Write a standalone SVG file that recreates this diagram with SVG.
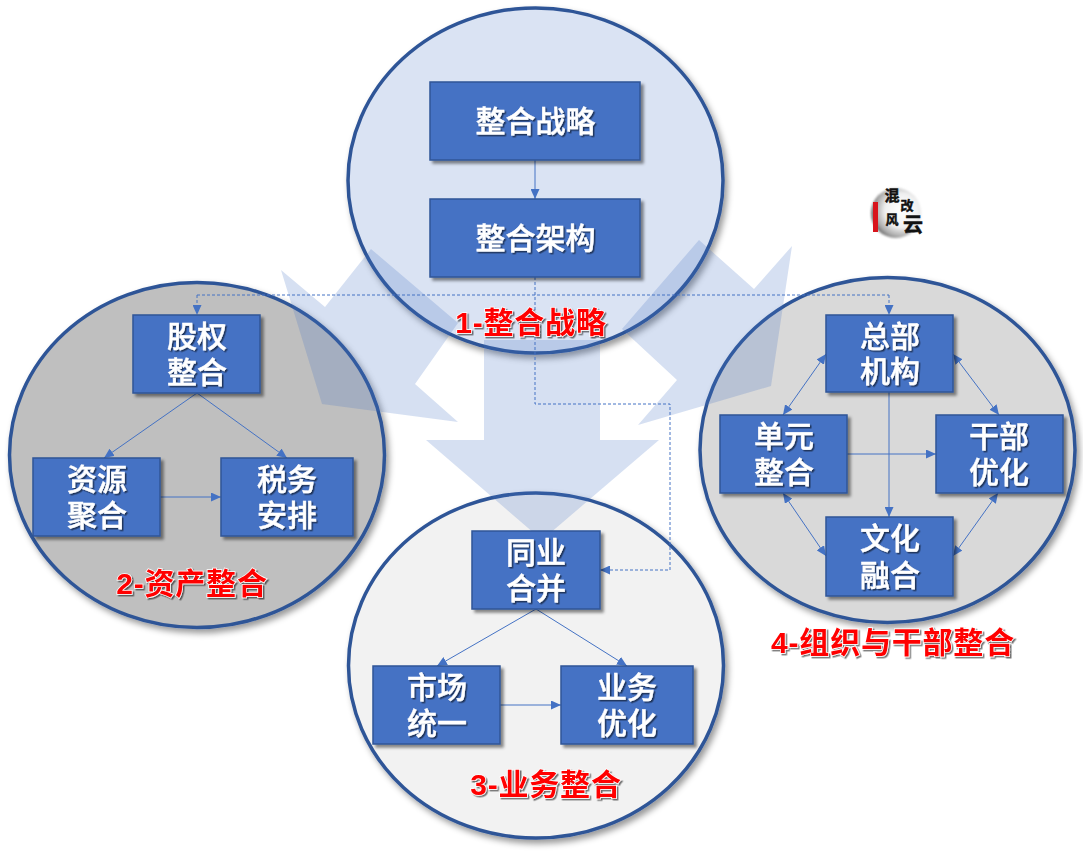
<svg xmlns="http://www.w3.org/2000/svg" width="1083" height="851" viewBox="0 0 1083 851">
<style>
text{font-family:"Liberation Sans","Noto Sans CJK SC",sans-serif;text-anchor:middle}
.c{stroke:#2f5597;stroke-width:3.5;filter:url(#cs)}
.b{fill:#4472c4;stroke:#2f5597;stroke-width:1.5;filter:url(#bs)}
.t{fill:#fff;font-size:30px;font-weight:500;stroke:#fff;stroke-width:.4;filter:url(#ts)}
.l{fill:#f00;font-size:30px;font-weight:700;letter-spacing:.8px;stroke:#fff;stroke-width:1.5;paint-order:stroke;filter:url(#ts)}
.a{fill:#4472c4;fill-opacity:.22}
.k{fill:none;stroke:#4472c4;stroke-width:1}
.d{fill:none;stroke:#4472c4;stroke-width:1;stroke-dasharray:3 2}
.m{font-weight:700;fill:#111;stroke:#111;stroke-width:.5}
</style>
<defs>
<filter id="cs" x="-10%" y="-10%" width="120%" height="120%"><feDropShadow dx="3" dy="4" stdDeviation="3" flood-color="#000" flood-opacity=".4"/></filter>
<filter id="bs" x="-10%" y="-10%" width="120%" height="125%"><feDropShadow dx="3" dy="3" stdDeviation="1.5" flood-color="#000" flood-opacity=".45"/></filter>
<filter id="ts" x="-10%" y="-10%" width="125%" height="125%"><feDropShadow dx="1.5" dy="1.5" stdDeviation=".7" flood-color="#000" flood-opacity=".55"/></filter>
<filter id="blur"><feGaussianBlur stdDeviation="1"/></filter>
<radialGradient id="lg" cx=".62" cy=".45" r=".62"><stop offset="0" stop-color="#fff"/><stop offset=".55" stop-color="#f0f0f0"/><stop offset=".85" stop-color="#aaa"/><stop offset="1" stop-color="#666"/></radialGradient>
<marker id="ah" viewBox="0 0 10 9" refX="10" refY="4.500" markerWidth="10" markerHeight="9" markerUnits="userSpaceOnUse" orient="auto-start-reverse"><path d="M0 0L10 4.500L0 9Z" fill="#4472c4"/></marker>
</defs>
<g id="circles">
<ellipse id="circle-1" class="c" cx="535.500" cy="180.500" rx="187.500" ry="172.500" fill="#dae3f3"/>
<ellipse id="circle-2" class="c" cx="197" cy="455" rx="187.500" ry="172.500" fill="#bfbfbf"/>
<ellipse id="circle-3" class="c" cx="536" cy="665.500" rx="187.500" ry="172.500" fill="#f2f2f2"/>
<ellipse id="circle-4" class="c" cx="887.500" cy="450" rx="187.500" ry="172.500" fill="#d9d9d9"/>
</g>
<g id="flow-arrows">
<path class="a" d="M484 340H600V440H659L542 540L426 440H484Z"/>
<path class="a" d="M281 270L325 307L371 249L458 323L415 384L458 422L322 404Z"/>
<path class="a" d="M792 246L754 289L699 240L622 329L677 380L638 425L771 386Z"/>
</g>
<g id="connectors">
<path class="k" marker-end="url(#ah)" d="M535 160V199"/>
<path class="d" d="M197 295H889"/>
<path class="d" marker-end="url(#ah)" d="M197 295V315"/>
<path class="d" marker-end="url(#ah)" d="M889 295V315"/>
<path class="d" marker-end="url(#ah)" d="M535 277V404H670V570H600"/>
<path class="k" marker-end="url(#ah)" d="M197 393L104 458"/>
<path class="k" marker-end="url(#ah)" d="M197 393L287 458"/>
<path class="k" marker-end="url(#ah)" d="M160 497H221"/>
<path class="k" marker-end="url(#ah)" d="M536 609L437 666"/>
<path class="k" marker-end="url(#ah)" d="M536 609L627 666"/>
<path class="k" marker-end="url(#ah)" d="M500 705H561"/>
<path class="k" marker-end="url(#ah)" d="M889 392V517"/>
<path class="k" marker-end="url(#ah)" d="M847 454H936"/>
<path class="k" marker-start="url(#ah)" marker-end="url(#ah)" d="M826 354L783 415"/>
<path class="k" marker-start="url(#ah)" marker-end="url(#ah)" d="M953 354L999 415"/>
<path class="k" marker-start="url(#ah)" marker-end="url(#ah)" d="M783 493L826 556"/>
<path class="k" marker-start="url(#ah)" marker-end="url(#ah)" d="M998 493L953 556"/>
</g>
<g id="n1"><rect class="b" x="430" y="82" width="210" height="78"/><text class="t" x="535.500" y="132">整合战略</text></g>
<g id="n2"><rect class="b" x="430" y="199" width="210" height="78"/><text class="t" x="535.500" y="249">整合架构</text></g>
<g id="n3"><rect class="b" x="133" y="315" width="127" height="78"/><text class="t" x="197" y="347">股权</text><text class="t" x="197" y="383">整合</text></g>
<g id="n4"><rect class="b" x="33" y="458" width="127" height="78"/><text class="t" x="97" y="490">资源</text><text class="t" x="97" y="526">聚合</text></g>
<g id="n5"><rect class="b" x="221" y="458" width="132" height="78"/><text class="t" x="287" y="490">税务</text><text class="t" x="287" y="526">安排</text></g>
<g id="n6"><rect class="b" x="472" y="531" width="128" height="78"/><text class="t" x="536" y="563">同业</text><text class="t" x="536" y="599">合并</text></g>
<g id="n7"><rect class="b" x="373" y="666" width="127" height="78"/><text class="t" x="437" y="698">市场</text><text class="t" x="437" y="734">统一</text></g>
<g id="n8"><rect class="b" x="561" y="666" width="132" height="78"/><text class="t" x="627" y="698">业务</text><text class="t" x="627" y="734">优化</text></g>
<g id="n9"><rect class="b" x="826" y="315" width="127" height="77"/><text class="t" x="890" y="347">总部</text><text class="t" x="890" y="382">机构</text></g>
<g id="n10"><rect class="b" x="720" y="415" width="127" height="78"/><text class="t" x="784" y="447">单元</text><text class="t" x="784" y="483">整合</text></g>
<g id="n11"><rect class="b" x="936" y="415" width="127" height="78"/><text class="t" x="999" y="447">干部</text><text class="t" x="999" y="483">优化</text></g>
<g id="n12"><rect class="b" x="826" y="517" width="127" height="79"/><text class="t" x="890" y="549">文化</text><text class="t" x="890" y="586">融合</text></g>
<g id="labels">
<text class="l" x="531" y="333">1-整合战略</text>
<text class="l" x="192" y="594">2-资产整合</text>
<text class="l" x="546" y="795">3-业务整合</text>
<text class="l" x="893" y="653">4-组织与干部整合</text>
</g>
<g id="logo">
<circle cx="896" cy="213" r="25" fill="url(#lg)" filter="url(#blur)"/>
<rect x="873" y="202" width="5" height="30" fill="#d8141c"/>
<text class="m" x="892" y="201" style="font-size:15px">混</text>
<text class="m" x="907" y="210" style="font-size:13px">改</text>
<text class="m" x="892" y="224" style="font-size:13px">风</text>
<text class="m" x="913" y="232" style="font-size:20px">云</text>
</g>
</svg>
